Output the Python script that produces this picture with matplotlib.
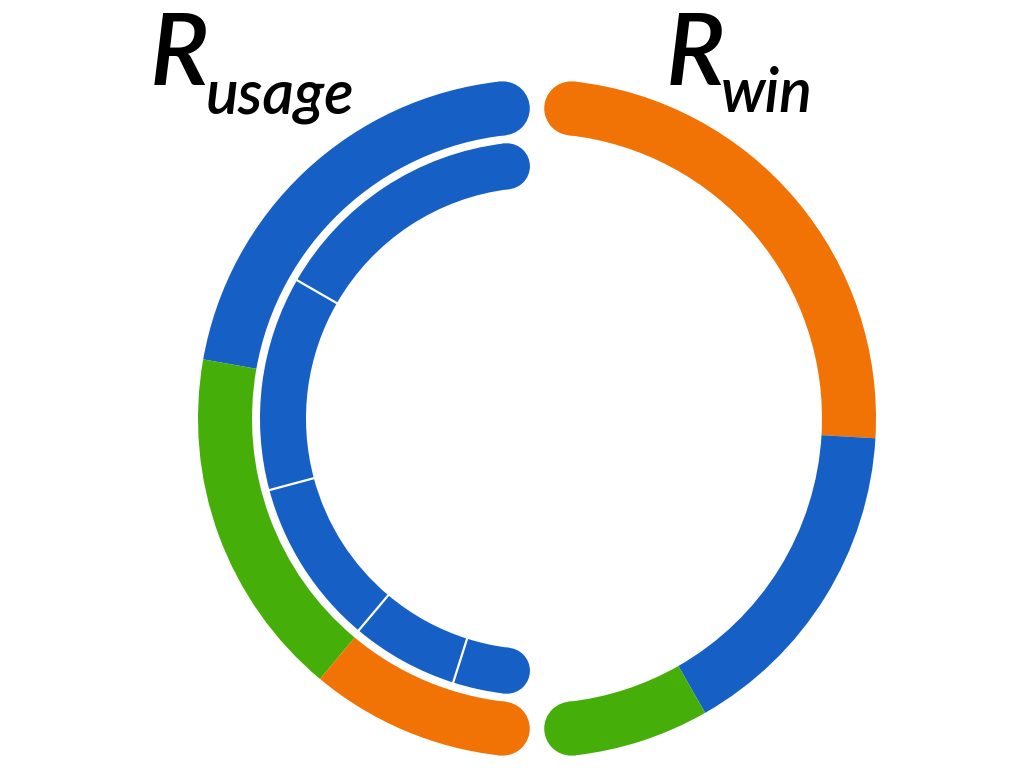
import numpy as np
import matplotlib
matplotlib.use("Agg")
import matplotlib.pyplot as plt
from matplotlib.patches import Wedge, Circle

# shares (%) of each half ring, listed from the top gap downwards
left_outer_share = [44, 36, 20]
left_outer_colors = ["#165FC5", "#46AE08", "#F17306"]

left_inner_share = [32, 27, 21, 13.5, 6.5]
left_inner_colors = ["#165FC5"] * 5

right_outer_share = [52, 34, 14]
right_outer_colors = ["#F17306", "#165FC5", "#46AE08"]

label_left = ("R", "usage")
label_right = ("R", "win")

W, H = 1024, 768
cx, cy = 537, H - 418.5

fig = plt.figure(figsize=(W / 100, H / 100), dpi=100)
ax = fig.add_axes([0, 0, 1, 1])
ax.set_xlim(0, W)
ax.set_ylim(0, H)
ax.axis("off")


def half_ring(shares, colors, r_out, width, a_start, a_end, separators=False):
    """draw segments from a_start to a_end (degrees, ccw if a_end > a_start)"""
    shares = np.asarray(shares, dtype=float)
    edges = a_start + (a_end - a_start) * np.concatenate([[0], np.cumsum(shares) / shares.sum()])
    for a0, a1, c in zip(edges[:-1], edges[1:], colors):
        t1, t2 = min(a0, a1), max(a0, a1)
        ax.add_patch(Wedge((cx, cy), r_out, t1, t2, width=width, color=c, lw=0))
    # round caps at both ends
    rc = r_out - width / 2
    for a, c in ((edges[0], colors[0]), (edges[-1], colors[-1])):
        t = np.radians(a)
        ax.add_patch(Circle((cx + rc * np.cos(t), cy + rc * np.sin(t)), width / 2, color=c, lw=0))
    if separators:
        for a in edges[1:-1]:
            t = np.radians(a)
            rr = np.array([r_out - width - 1, r_out + 1])
            ax.plot(cx + rr * np.cos(t), cy + rr * np.sin(t), color="white", lw=1.6,
                    solid_capstyle="butt", zorder=3)


# left side
half_ring(left_outer_share, left_outer_colors, 339, 54, 96.3, 263.7)
half_ring(left_inner_share, left_inner_colors, 277, 46, 96.8, 263.2, separators=True)
# right side
half_ring(right_outer_share, right_outer_colors, 339, 54, 83.7, -83.7)

font = dict(family=["Lato", "DejaVu Sans"], style="italic", weight="semibold", color="black")
ax.text(150, H - 85, label_left[0], fontsize=72, ha="left", va="baseline", **font)
ax.text(206, H - 113, label_left[1], fontsize=44, ha="left", va="baseline", **font)
ax.text(666, H - 85, label_right[0], fontsize=72, ha="left", va="baseline", **font)
ax.text(721, H - 112, label_right[1], fontsize=44, ha="left", va="baseline", **font)

fig.savefig("out.png", dpi=100)
